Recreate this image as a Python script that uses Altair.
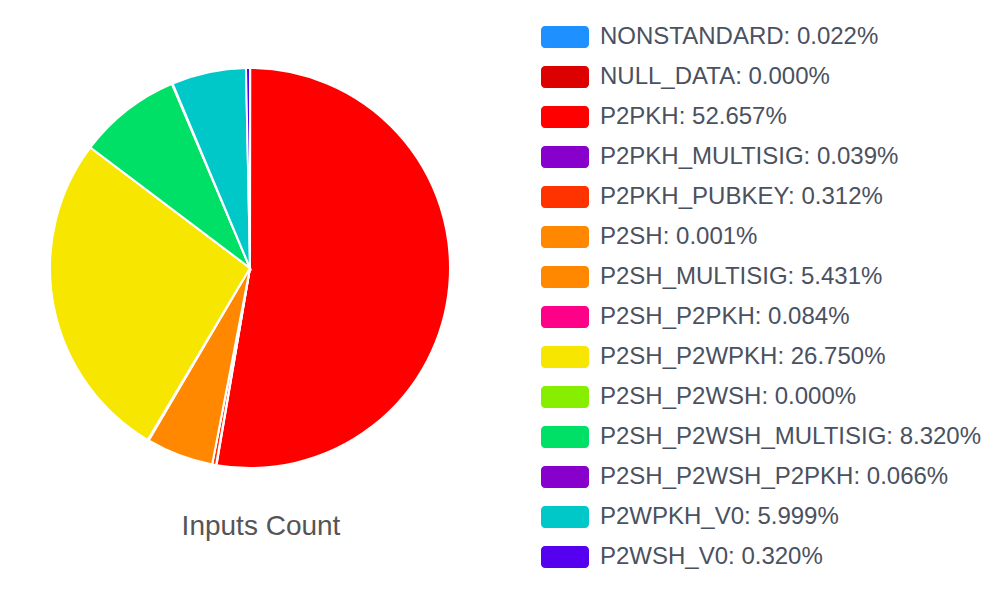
import altair as alt
import pandas as pd

categories = ["NONSTANDARD", "NULL_DATA", "P2PKH", "P2PKH_MULTISIG", "P2PKH_PUBKEY",
              "P2SH", "P2SH_MULTISIG", "P2SH_P2PKH", "P2SH_P2WPKH", "P2SH_P2WSH",
              "P2SH_P2WSH_MULTISIG", "P2SH_P2WSH_P2PKH", "P2WPKH_V0", "P2WSH_V0"]
percents = [0.022, 0.000, 52.657, 0.039, 0.312,
            0.001, 5.431, 0.084, 26.750, 0.000,
            8.320, 0.066, 5.999, 0.320]
colors = ["#1E90FF", "#DD0000", "#FF0000", "#8800CC", "#FF3300",
          "#FF8800", "#FF8800", "#FF0088", "#F7E600", "#88EE00",
          "#00E066", "#8800CC", "#00C8C8", "#5500EE"]
title_text = "Inputs Count"

df = pd.DataFrame({
    "cat": categories,
    "value": percents,
    "idx": list(range(len(categories))),
})
df["label"] = [f"{c}: {v:.3f}%" for c, v in zip(categories, percents)]

color = alt.Color("cat:N", scale=alt.Scale(domain=categories, range=colors), legend=None)

base = alt.Chart(df)

pie = base.mark_arc(outerRadius=200, stroke="white", strokeWidth=2).encode(
    theta=alt.Theta("value:Q", stack=True),
    order=alt.Order("idx:Q"),
    color=color,
    x=alt.value(250),
    y=alt.value(268),
)

yenc = alt.Y("cat:N", sort=categories,
             scale=alt.Scale(range=[17, 577], paddingInner=0.45, paddingOuter=0.225),
             axis=None)

swatch = base.mark_rect(cornerRadius=4).encode(
    y=yenc,
    x=alt.value(541),
    x2=alt.value(589),
    color=color,
)

labels = base.mark_text(align="left", baseline="middle", fontSize=24,
                        font="Liberation Sans", color="#4a5160").encode(
    y=yenc,
    x=alt.value(600),
    text="label:N",
)

title = alt.Chart(pd.DataFrame({"t": [title_text]})).mark_text(
    align="center", baseline="middle", fontSize=28, font="Liberation Sans", color="#555555"
).encode(
    x=alt.value(261),
    y=alt.value(527),
    text="t:N",
)

chart = alt.layer(pie, swatch, labels, title).properties(
    width=1003, height=589, padding=0,
    autosize=alt.AutoSizeParams(type="none"),
).configure_view(stroke=None)

chart.save("out.html", embed_options={"renderer": "svg", "actions": False})
